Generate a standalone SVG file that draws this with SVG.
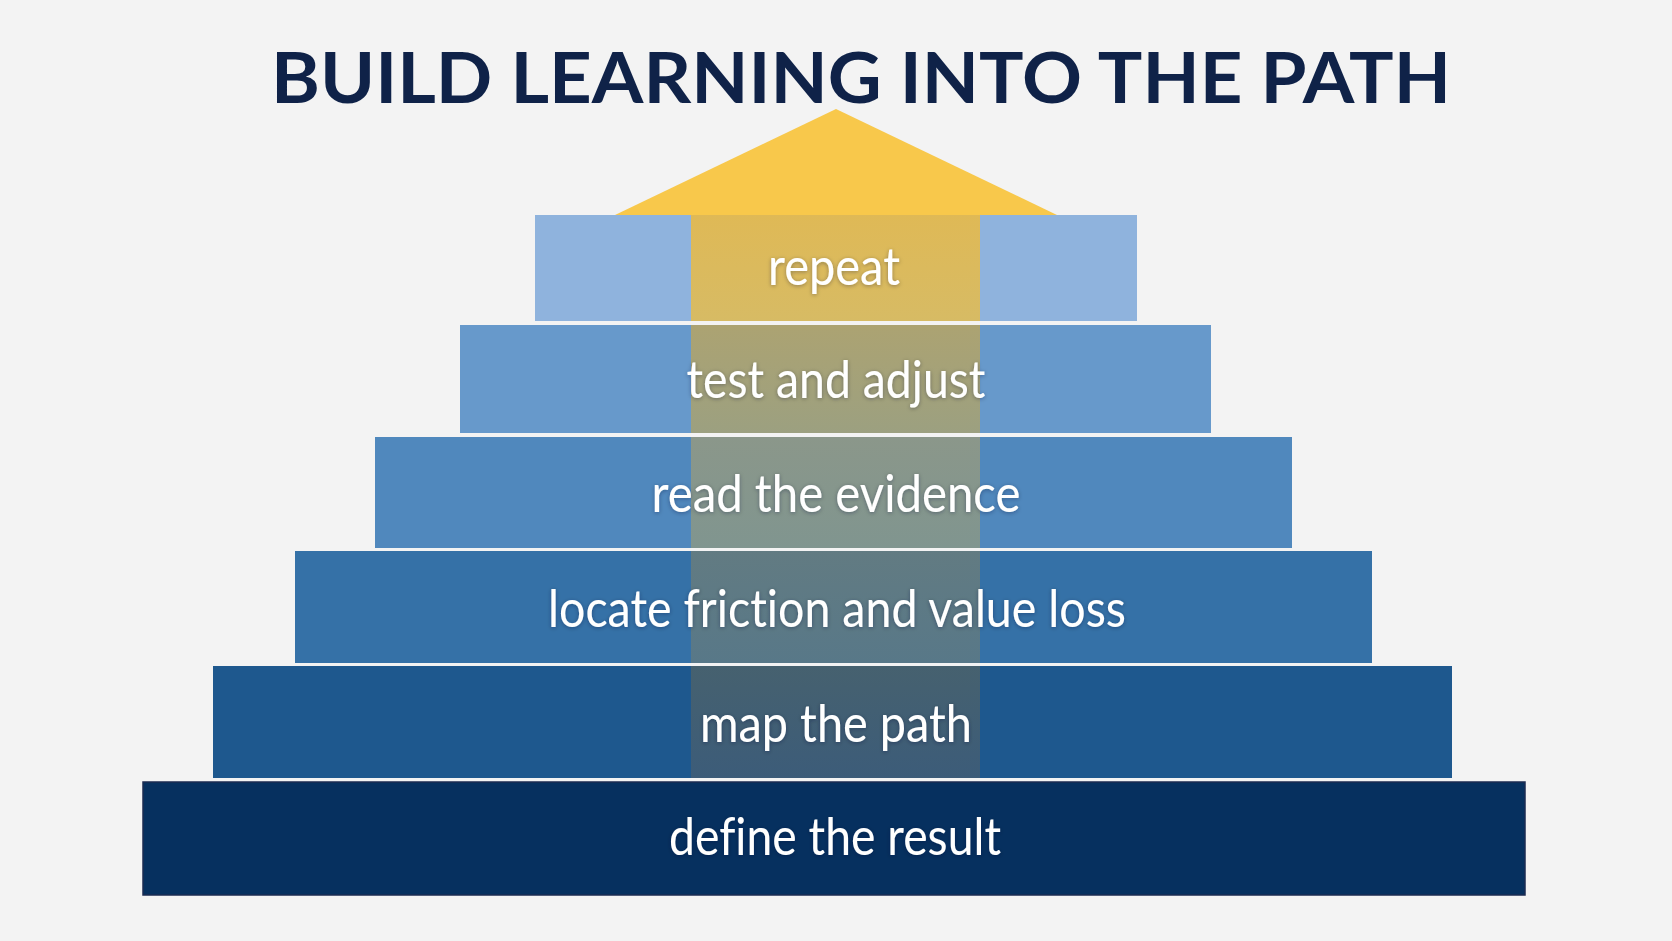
<svg xmlns="http://www.w3.org/2000/svg" width="1672" height="941" viewBox="0 0 1672 941">
  <defs>
    <style>
      .title { font-family: Lato, "Liberation Sans", sans-serif; font-weight: 700; font-size: 70px; fill: #0f2248; }
      .label { font-family: Lato, "Liberation Sans", sans-serif; font-weight: 400; font-size: 52px; fill: #ffffff; filter: url(#glow); font-variant-ligatures: none; }
    </style>
    <filter id="glow" x="-10%" y="-30%" width="120%" height="160%">
      <feDropShadow dx="0" dy="1" stdDeviation="2" flood-color="#0a1a33" flood-opacity="0.35"/>
    </filter>
    <linearGradient id="b1" x1="0" y1="0" x2="0" y2="1"><stop offset="0" stop-color="#dfb956"/><stop offset="1" stop-color="#d7bb64"/></linearGradient>
    <linearGradient id="b2" x1="0" y1="0" x2="0" y2="1"><stop offset="0" stop-color="#aca372"/><stop offset="1" stop-color="#9ca080"/></linearGradient>
    <linearGradient id="b3" x1="0" y1="0" x2="0" y2="1"><stop offset="0" stop-color="#8b978a"/><stop offset="1" stop-color="#80958f"/></linearGradient>
    <linearGradient id="b4" x1="0" y1="0" x2="0" y2="1"><stop offset="0" stop-color="#627b82"/><stop offset="1" stop-color="#587888"/></linearGradient>
    <linearGradient id="b5" x1="0" y1="0" x2="0" y2="1"><stop offset="0" stop-color="#46616f"/><stop offset="1" stop-color="#3c5c79"/></linearGradient>
  </defs>

  <rect x="0" y="0" width="1672" height="941" fill="#f3f3f3"/>

  <g id="title">
    <text class="title" x="861" y="103" text-anchor="middle" textLength="1180" lengthAdjust="spacingAndGlyphs">BUILD LEARNING INTO THE PATH</text>
  </g>

  <g id="apex">
    <polygon points="836,109 1057,215 615,215" fill="#f8c84b"/>
  </g>

  <g id="tier-repeat">
    <rect x="535" y="215" width="602" height="106" fill="#8fb3dd"/>
    <rect x="691" y="215" width="289" height="106" fill="url(#b1)"/>
    <text class="label" x="834" y="285" text-anchor="middle" textLength="132" lengthAdjust="spacingAndGlyphs">repeat</text>
  </g>

  <g id="tier-test">
    <rect x="460" y="325" width="751" height="108" fill="#6799cb"/>
    <rect x="691" y="325" width="289" height="108" fill="url(#b2)"/>
    <text class="label" x="836" y="398" text-anchor="middle" textLength="299" lengthAdjust="spacingAndGlyphs">test and adjust</text>
  </g>

  <g id="tier-read">
    <rect x="375" y="437" width="917" height="111" fill="#5088bd"/>
    <rect x="691" y="437" width="289" height="111" fill="url(#b3)"/>
    <text class="label" x="836" y="512" text-anchor="middle" textLength="369" lengthAdjust="spacingAndGlyphs">read the evidence</text>
  </g>

  <g id="tier-locate">
    <rect x="295" y="551" width="1077" height="112" fill="#3571a7"/>
    <rect x="691" y="551" width="289" height="112" fill="url(#b4)"/>
    <text class="label" x="837" y="627" text-anchor="middle" textLength="578" lengthAdjust="spacingAndGlyphs">locate friction and value loss</text>
  </g>

  <g id="tier-map">
    <rect x="213" y="666" width="1239" height="112" fill="#1e588e"/>
    <rect x="691" y="666" width="289" height="112" fill="url(#b5)"/>
    <text class="label" x="836" y="742" text-anchor="middle" textLength="272" lengthAdjust="spacingAndGlyphs">map the path</text>
  </g>

  <g id="tier-define">
    <rect x="143" y="782" width="1382" height="113" fill="#06305f" stroke="#1b2b52" stroke-width="1.5"/>
    <text class="label" x="835" y="855" text-anchor="middle" textLength="332" lengthAdjust="spacingAndGlyphs">define the result</text>
  </g>

  <g id="connectors"/>
</svg>
